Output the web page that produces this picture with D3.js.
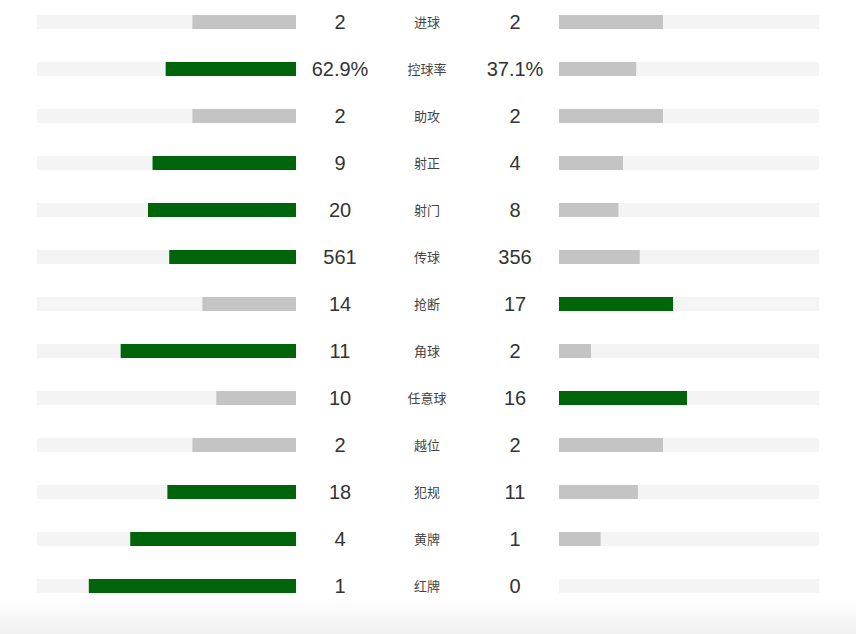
<!DOCTYPE html>
<html>
<head>
<meta charset="utf-8">
<script src="https://cdn.jsdelivr.net/npm/d3@7"></script>
<style>
  html, body { margin: 0; padding: 0; background: #fff; }
  svg { display: block; }
</style>
</head>
<body>
<div id="chart"></div>
<script>
// stat names, home values, away values
var labels = ["进球", "控球率", "助攻", "射正", "射门", "传球", "抢断", "角球", "任意球", "越位", "犯规", "黄牌", "红牌"];
var homeValues = [2, 62.9, 2, 9, 20, 561, 14, 11, 10, 2, 18, 4, 1];
var awayValues = [2, 37.1, 2, 4, 8, 356, 17, 2, 16, 2, 11, 1, 0];
var suffixes = ["", "%", "", "", "", "", "", "", "", "", "", "", ""];

var width = 856;
var height = 634;

var trackColor = "#f4f4f4";
var winColor = "#00640a";
var loseColor = "#c4c4c4";

var rows = labels.map(function(d, i) {
	var total = homeValues[i] + awayValues[i];
	return {
		label: d,
		home: homeValues[i],
		away: awayValues[i],
		homeShare: total ? homeValues[i] / total : 0,
		awayShare: total ? awayValues[i] / total : 0,
		suffix: suffixes[i]
	};
});

/* Scales */
var y = d3.scaleBand()
	.domain(d3.range(rows.length))
	.range([-1.5, 609.5])
	.paddingInner(0);

var leftX = d3.scaleLinear().domain([0, 1.25]).range([296, 37]);
var rightX = d3.scaleLinear().domain([0, 1.25]).range([559, 819]);

var barH = 14;

var svg = d3.select("#chart").append("svg")
	.attr("width", width)
	.attr("height", height);

/* bottom fade */
var grad = svg.append("defs").append("linearGradient")
	.attr("id", "fade")
	.attr("x1", 0).attr("y1", 0).attr("x2", 0).attr("y2", 1);
grad.append("stop").attr("offset", "0%").attr("stop-color", "#ffffff");
grad.append("stop").attr("offset", "100%").attr("stop-color", "#f0f0f0");

svg.append("rect")
	.attr("x", 0).attr("y", 598)
	.attr("width", width).attr("height", height - 598)
	.attr("fill", "url(#fade)");

var row = svg.selectAll(".row")
	.data(rows).enter()
	.append("g")
	.attr("class", "row")
	.attr("transform", (d, i) => `translate(0, ${y(i) + y.bandwidth() / 2})`);

// tracks
row.append("rect")
	.attr("x", leftX(1.25))
	.attr("y", -barH / 2)
	.attr("width", leftX(0) - leftX(1.25))
	.attr("height", barH)
	.attr("fill", trackColor);

row.append("rect")
	.attr("x", rightX(0))
	.attr("y", -barH / 2)
	.attr("width", rightX(1.25) - rightX(0))
	.attr("height", barH)
	.attr("fill", trackColor);

// value bars
row.append("rect")
	.attr("x", d => leftX(d.homeShare))
	.attr("y", -barH / 2)
	.attr("width", d => leftX(0) - leftX(d.homeShare))
	.attr("height", barH)
	.attr("fill", d => d.home > d.away ? winColor : loseColor);

row.append("rect")
	.attr("x", rightX(0))
	.attr("y", -barH / 2)
	.attr("width", d => rightX(d.awayShare) - rightX(0))
	.attr("height", barH)
	.attr("fill", d => d.away > d.home ? winColor : loseColor);

// numbers
row.append("text")
	.attr("x", 340)
	.attr("y", 0)
	.attr("dy", "0.36em")
	.attr("text-anchor", "middle")
	.style("font-family", "'Liberation Sans', Arial, sans-serif")
	.style("font-size", "20px")
	.style("fill", "#333")
	.text(d => d.home + d.suffix);

row.append("text")
	.attr("x", 515)
	.attr("y", 0)
	.attr("dy", "0.36em")
	.attr("text-anchor", "middle")
	.style("font-family", "'Liberation Sans', Arial, sans-serif")
	.style("font-size", "20px")
	.style("fill", "#333")
	.text(d => d.away + d.suffix);

// labels
row.append("text")
	.attr("x", 427)
	.attr("y", 0)
	.attr("dy", "0.36em")
	.attr("text-anchor", "middle")
	.style("font-family", "'Noto Sans CJK SC', sans-serif")
	.style("font-size", "13px")
	.style("fill", "#444")
	.text(d => d.label);
</script>
</body>
</html>
